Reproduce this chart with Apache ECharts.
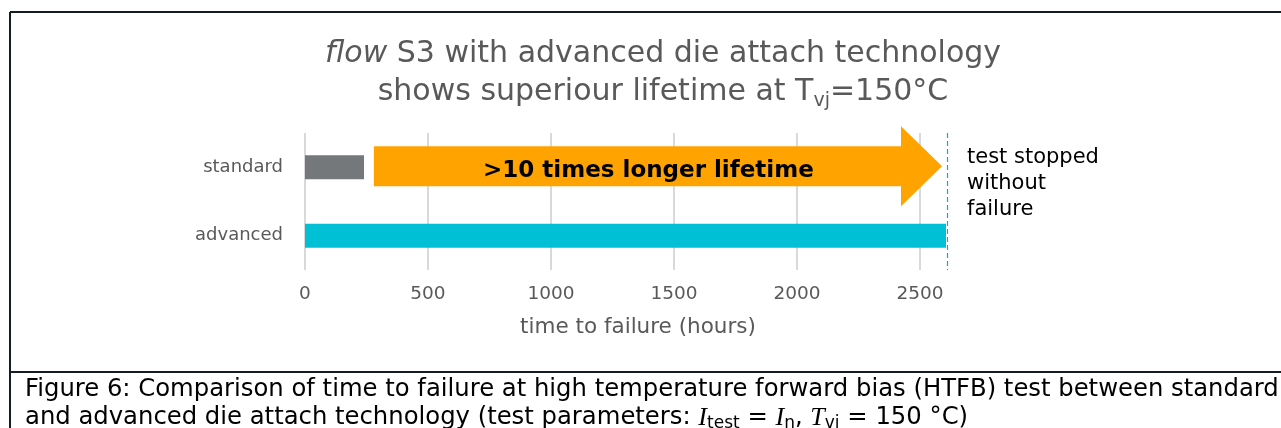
<!DOCTYPE html>
<html>
<head>
<meta charset="utf-8">
<script src="https://cdn.jsdelivr.net/npm/echarts@6/dist/echarts.min.js"></script>
<style>
  html, body { margin: 0; padding: 0; background: #fff; }
  #main { width: 1281px; height: 428px; }
</style>
</head>
<body>
<div id="main"></div>
<script>
	// data
	var categories = ['standard', 'advanced'];
	var hours = [240, 2610];
	var barColors = ['#75787b', '#00c0d6'];
	var axisMax = 2610;
	var tickStep = 500;
	// arrow: start, head base, tip (hours), on the 'standard' row
	var arrowHours = [280, 2423, 2590];
	var arrowText = '>10 times longer lifetime';
	var noteLines = ['test stopped', 'without', 'failure'];

	var font = 'DejaVu Sans';
	var myChart = echarts.init(document.getElementById('main'));

	var option = {
		backgroundColor: '#fff',
		animation: false,
		title: {
			text: '{i|flow} S3 with advanced die attach technology\nshows superiour lifetime at T{s|vj}=150°C',
			left: 658,
			top: 30,
			textAlign: 'center',
			textStyle: {
				fontFamily: font,
				fontSize: 30,
				fontWeight: 'normal',
				color: '#595959',
				lineHeight: 38,
				rich: {
					i: { fontFamily: font, fontSize: 30, fontStyle: 'italic', color: '#595959', lineHeight: 38 },
					s: { fontFamily: font, fontSize: 19, color: '#595959', lineHeight: 38, verticalAlign: 'bottom', padding: [5, 0, 0, 0] }
				}
			}
		},
		grid: { left: 305, right: 334, top: 133, bottom: 158 },
		xAxis: {
			type: 'value',
			min: 0,
			max: axisMax,
			interval: tickStep,
			name: 'time to failure (hours)',
			nameLocation: 'middle',
			nameGap: 46,
			nameTextStyle: { fontFamily: font, fontSize: 21.5, color: '#595959', padding: [0, 0, 0, 24] },
			axisLine: { show: false },
			axisTick: { show: false },
			axisLabel: {
				fontFamily: font, fontSize: 18.5, color: '#595959', margin: 15,
				formatter: function (v) { return v % tickStep === 0 ? String(v) : ''; }
			},
			splitLine: { show: true, lineStyle: { color: '#d9d9d9', width: 2 } }
		},
		yAxis: {
			type: 'category',
			data: categories,
			inverse: true,
			axisLine: { show: false },
			axisTick: { show: false },
			axisLabel: { fontFamily: font, fontSize: 18, color: '#595959', margin: 22 }
		},
		series: [
			{
				type: 'bar',
				barWidth: 24,
				data: hours.map(function (v, i) { return { value: v, itemStyle: { color: barColors[i] } }; }),
				markLine: {
					silent: true,
					symbol: 'none',
					z: 4,
					label: { show: false },
					lineStyle: { color: '#fff', type: 'solid', width: 2 },
					data: [{ xAxis: hours[1] }]
				}
			},
			{
				type: 'custom',
				z: 3,
				data: [[arrowHours[0], arrowHours[1], arrowHours[2], 0]],
				encode: { x: [0, 1, 2], y: 3 },
				renderItem: function (params, api) {
					var p0 = api.coord([api.value(0), api.value(3)]);
					var p1 = api.coord([api.value(1), api.value(3)]);
					var p2 = api.coord([api.value(2), api.value(3)]);
					var y = p0[1] - 1;
					return {
						type: 'group',
						children: [
							{
								type: 'polygon',
								shape: { points: [[p0[0], y - 20], [p1[0], y - 20], [p1[0], y - 40], [p2[0], y], [p1[0], y + 40], [p1[0], y + 20], [p0[0], y + 20]] },
								style: { fill: '#ffa300' }
							},
							{
								type: 'text',
								style: {
									text: arrowText, x: (p0[0] + p1[0]) / 2 + 11, y: y + 5,
									align: 'center', verticalAlign: 'middle',
									font: 'bold 23px "DejaVu Sans"', fill: '#000'
								}
							}
						]
					};
				}
			},
			{
				type: 'line',
				data: [],
				markLine: {
					silent: true,
					symbol: 'none',
					z: 6,
					label: { show: false },
					lineStyle: { color: '#14a9c4', type: [5, 3], width: 1.2 },
					data: [{ xAxis: hours[1] }]
				}
			}
		],
		graphic: [
			{ type: 'line', shape: { x1: 10, y1: 12, x2: 1281, y2: 12 }, style: { stroke: '#141c24', lineWidth: 2 } },
			{ type: 'line', shape: { x1: 10, y1: 12, x2: 10, y2: 428 }, style: { stroke: '#141c24', lineWidth: 2 } },
			{ type: 'line', shape: { x1: 10, y1: 372, x2: 1281, y2: 372 }, style: { stroke: '#141c24', lineWidth: 2 } },
			{
				type: 'text', left: 967, top: 145,
				style: { text: noteLines.join('\n'), font: '21px "DejaVu Sans"', fill: '#000', lineHeight: 26 }
			},
			{
				type: 'text', left: 25, top: 376,
				style: {
					text: 'Figure 6: Comparison of time to failure at high temperature forward bias (HTFB) test between standard\n' +
						'and advanced die attach technology (test parameters: {i|I}{s|test} = {i|I}{s|n}, {i|T}{s|vj} = 150 °C)',
					font: '24.3px "DejaVu Sans"', fill: '#000', lineHeight: 28,
					rich: {
						i: { fontFamily: 'Liberation Serif', fontSize: 26, fontStyle: 'italic', fill: '#000', lineHeight: 28 },
						s: { fontFamily: font, fontSize: 17, fill: '#000', lineHeight: 28, verticalAlign: 'bottom' }
					}
				}
			}
		]
	};

	myChart.setOption(option);
</script>
</body>
</html>
